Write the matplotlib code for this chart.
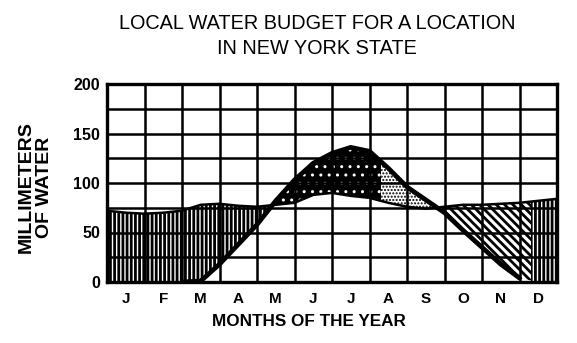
import numpy as np
import matplotlib.pyplot as plt
from matplotlib.patches import Rectangle

plt.rcParams['font.family'] = ['Liberation Sans', 'DejaVu Sans']

# time in months from the start of January, every half month
time_months = np.arange(0, 12.5, 0.5)

# precipitation (P) and potential evapotranspiration (Ep), mm of water
precip = np.array([72, 70, 69, 70, 72, 78, 79, 77, 76, 78, 80, 88, 90,
                   87, 85, 80, 76, 74, 76, 78, 78, 79, 80, 82, 84])
pot_evap = np.array([0, 0, 0, 0, 0, 1, 18, 38, 58, 82, 103, 120, 130,
                     136, 132, 115, 96, 83, 70, 52, 35, 18, 4, 0, 0])

# where soil-moisture usage gives way to deficit, and recharge to surplus
usage_end = 7.3
recharge_end = 11.3

month_labels = ['J', 'F', 'M', 'A', 'M', 'J', 'J', 'A', 'S', 'O', 'N', 'D']
y_ticks = [0, 25, 50, 75, 100, 125, 150, 175, 200]
y_tick_labels = ['0', '', '50', '', '100', '', '150', '', '200']

fig = plt.figure(figsize=(5.77, 3.43), dpi=100)
ax = fig.add_axes([107 / 577, 1 - 282 / 343, 450 / 577, 198 / 343])

x = time_months
P = precip
E = pot_evap


def band(lo, hi, where, face, hatch, hatch_lw, x0=0, x1=12):
    with plt.rc_context({'hatch.linewidth': hatch_lw}):
        coll = ax.fill_between(x, lo, hi, where=where, interpolate=True,
                               facecolor=face,
                               edgecolor='white' if face == 'black' else 'black',
                               hatch=hatch, linewidth=0, zorder=1)
    box = Rectangle((x0, -10), x1 - x0, 220, transform=ax.transData)
    coll.set_clip_path(box)
    return coll


# surplus: vertical lines (spring, and December)
band(E, P, (P >= E) & (x <= 6), 'white', '||||', 2.0)
band(0, P, x >= 10.5, 'white', '||||', 2.0, recharge_end, 12)
# usage: black with white dots
band(P, E, E >= P, 'black', '..', 1.0, 0, usage_end)
# deficit: white with fine black dots
band(P, E, E >= P, 'white', '.....', 1.0, usage_end, 12)
# recharge: diagonal lines
band(E, P, (P >= E) & (x >= 8), 'white', '\\\\\\\\', 2.0, 0, recharge_end)

# curves
ax.plot(x, P, color='black', lw=1.8, zorder=3)
ax.plot(x[4:23], E[4:23], color='black', lw=3.4, zorder=3, solid_capstyle='round')

ax.set_xlim(0, 12)
ax.set_ylim(0, 200)

ax.set_xticks(range(13))
ax.set_xticklabels([])
ax.set_xticks(np.arange(0.5, 12, 1), minor=True)
ax.set_xticklabels(month_labels, minor=True, fontsize=11, fontweight='bold')
ax.set_yticks(y_ticks)
ax.set_yticklabels(y_tick_labels, fontsize=11.5, fontweight='bold')
ax.tick_params(which='both', length=0)
ax.tick_params(axis='x', which='minor', pad=7)
ax.tick_params(axis='y', pad=5)

ax.grid(True, which='major', color='black', lw=1.8)
for s in ax.spines.values():
    s.set_linewidth(2.4)
    s.set_zorder(4)

fig.text(317 / 577, 1 - 36 / 343, 'LOCAL WATER BUDGET FOR A LOCATION\nIN NEW YORK STATE',
         ha='center', va='center', fontsize=14.3, linespacing=1.45)
fig.text(35 / 577, 1 - 187 / 343, 'MILLIMETERS\nOF WATER', rotation=90,
         ha='center', va='center', fontsize=14, fontweight='bold', linespacing=1.1)
fig.text(309 / 577, 1 - 321 / 343, 'MONTHS OF THE YEAR', ha='center', va='center',
         fontsize=12.3, fontweight='bold')

fig.savefig('out.png', dpi=100)
